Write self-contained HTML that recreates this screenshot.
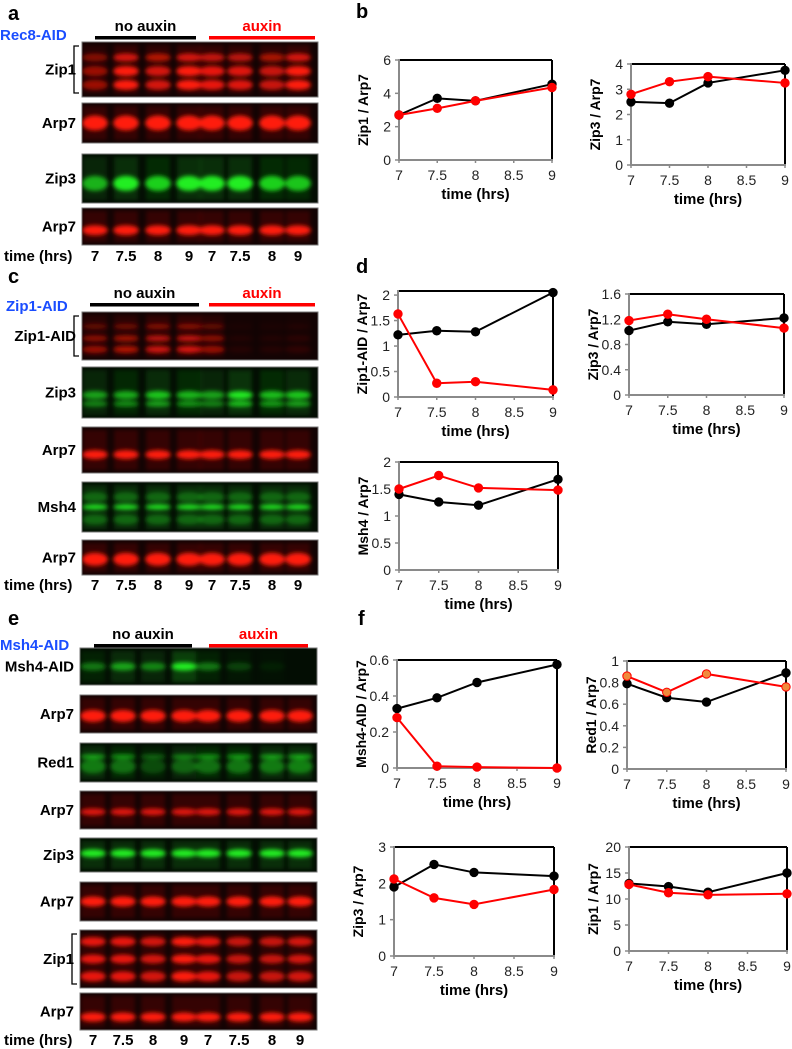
<!DOCTYPE html>
<html><head><meta charset="utf-8"><style>
html,body{margin:0;padding:0;background:#fff;}
svg{display:block;font-family:"Liberation Sans",sans-serif;}
</style></head><body>
<svg id="fig" width="792" height="1049" viewBox="0 0 792 1049" xmlns="http://www.w3.org/2000/svg">
<defs>
<filter id="bl" x="-50%" y="-100%" width="200%" height="300%"><feGaussianBlur stdDeviation="2"/></filter>
</defs>
<g id="blots"></g>
<g id="charts"></g>
<g id="labels" font-weight="bold">
<text x="8" y="20" font-size="20">a</text>
<text x="0" y="40" font-size="15" fill="#1a4dff">Rec8-AID</text>
<text x="8" y="283" font-size="20">c</text>
<text x="6" y="311" font-size="15" fill="#1a4dff">Zip1-AID</text>
<text x="8" y="625" font-size="20">e</text>
<text x="0" y="650" font-size="15" fill="#1a4dff">Msh4-AID</text>
<text x="356" y="18" font-size="20">b</text>
<text x="356" y="273" font-size="20">d</text>
<text x="358" y="625" font-size="20">f</text>
</g>
</svg>
<script>
const NS='http://www.w3.org/2000/svg';
function mk(parent,tag,attrs,txt){const e=document.createElementNS(NS,tag);for(const k in attrs)e.setAttribute(k,attrs[k]);if(txt!==undefined)e.textContent=txt;parent.appendChild(e);return e;}
const blotsG=document.getElementById('blots');
const lanesAC=[95,126,158,189,212,240,272,298];
const lanesE=[93,123,153,184,208,239,272,300];
const laneLabels=['7','7.5','8','9','7','7.5','8','9'];

function header(y,x1,x2,x3,x4){
  const t1=mk(blotsG,'text',{x:(x1+x2)/2,y:y,'text-anchor':'middle','font-size':15,'font-weight':'bold'},'no auxin');
  
  const b1=mk(blotsG,'rect',{x:x1,y:y+5,width:x2-x1,height:3.5,fill:'#000'});
  
  const t2=mk(blotsG,'text',{x:(x3+x4)/2,y:y,'text-anchor':'middle','font-size':15,'font-weight':'bold',fill:'#f00'},'auxin');
  
  const b2=mk(blotsG,'rect',{x:x3,y:y+5,width:x4-x3,height:3.5,fill:'#f00'});
  
}
function blot(name,label,color,x,y,w,h,lanes,bands,ints,bracket){
  const g=mk(blotsG,'g',{});
  
  
  mk(g,'rect',{x:x,y:y,width:w,height:h,fill:color==='r'?'#120303':'#030d03',stroke:'#777','stroke-width':1});
  const col=color==='r'?'#ff1a0a':'#22ee22';
  const cl=mk(g,'clipPath',{id:'c'+name});mk(cl,'rect',{x:x,y:y,width:w,height:h});
  const gg=mk(g,'g',{'clip-path':'url(#c'+name+')',filter:'url(#bl)'});
  lanes.forEach((lx,i)=>{
    mk(gg,'rect',{x:lx-12,y:y+3,width:24,height:h-6,fill:col,opacity:0.15*ints[i]});
    bands.forEach(b=>{
      mk(gg,'ellipse',{cx:lx,cy:y+h*b[0],rx:13,ry:b[1]/2,fill:col,opacity:Math.min(1,ints[i]*b[2])});
    });
  });
  const t=mk(blotsG,'text',{x:x-6,y:y+h/2+5,'text-anchor':'end','font-size':15,'font-weight':'bold'},label);
  
  if(bracket){mk(blotsG,'path',{d:`M${x-3} ${y+4} h-5 v${h-8} h5`,fill:'none',stroke:'#000','stroke-width':1.3});}
}
function timeRow(y,lanes,name){
  const t=mk(blotsG,'text',{x:4,y:y,'font-size':15,'font-weight':'bold'},'time (hrs)');
  
  lanes.forEach((lx,i)=>{const e=mk(blotsG,'text',{x:lx,y:y,'text-anchor':'middle','font-size':15,'font-weight':'bold'},laneLabels[i]);
    });
}
const one=[1,1,1,1,1,1,1,1];
header(31,95,196,209,315);
blot('a-zip1-blot','Zip1','r',82,42,236,55,lanesAC,[[0.28,8,0.8],[0.53,10,1],[0.78,10,1]],[0.55,1,0.8,1,0.9,0.85,0.75,1],true);
blot('a-arp7-blot-1','Arp7','r',82,103,236,40,lanesAC,[[0.5,15,1]],one);
blot('a-zip3-blot','Zip3','g',82,154,236,49,lanesAC,[[0.6,15,1]],[0.7,1,0.85,1,1,1,0.85,0.8]);
blot('a-arp7-blot-2','Arp7','r',82,208,236,37,lanesAC,[[0.6,10,1]],one);
timeRow(261,lanesAC,'a-time-row');
header(298,90,199,209,315);
blot('c-zip1aid-blot','Zip1-AID','r',82,312,236,48,lanesAC,[[0.3,5,0.5],[0.55,6,0.8],[0.78,7,0.9]],[0.6,0.7,0.85,0.9,0.6,0.08,0.08,0.12],true);
blot('c-zip3-blot','Zip3','g',82,367,236,51,lanesAC,[[0.55,8,0.9],[0.72,6,0.7]],[0.7,0.75,0.9,0.8,0.7,1.1,0.85,0.9]);
blot('c-arp7-blot-1','Arp7','r',82,427,236,46,lanesAC,[[0.6,9,1]],one);
blot('c-msh4-blot','Msh4','g',82,482,236,50,lanesAC,[[0.5,5,1],[0.3,10,0.3],[0.75,10,0.3]],one);
blot('c-arp7-blot-2','Arp7','r',82,540,236,35,lanesAC,[[0.55,13,1]],one);
timeRow(590,lanesAC,'c-time-row');
header(639,94,192,209,308);
blot('e-msh4aid-blot','Msh4-AID','g',80,648,237,37,lanesE,[[0.5,8,0.7]],[0.6,0.9,0.7,1.5,0.6,0.3,0.1,0]);
blot('e-arp7-blot-1','Arp7','r',80,695,237,38,lanesE,[[0.55,12,1]],one);
blot('e-red1-blot','Red1','g',80,743,237,39,lanesE,[[0.35,5,0.7],[0.6,14,0.45]],[0.9,0.8,0.5,0.7,0.8,0.85,0.9,0.95]);
blot('e-arp7-blot-2','Arp7','r',80,791,237,38,lanesE,[[0.55,7,0.85]],one);
blot('e-zip3-blot','Zip3','g',80,838,237,34,lanesE,[[0.45,8,1]],one);
blot('e-arp7-blot-3','Arp7','r',80,882,237,39,lanesE,[[0.5,10,1]],one);
blot('e-zip1-blot','Zip1','r',80,930,237,58,lanesE,[[0.2,9,1],[0.5,9,1],[0.8,10,1]],[0.9,0.9,0.8,1,0.9,0.75,0.75,0.8],true);
blot('e-arp7-blot-4','Arp7','r',80,993,237,37,lanesE,[[0.65,9,1]],one);
timeRow(1045,lanesE,'e-time-row');

const timesX=[7,7.5,8,9];
const xTicks=[7,7.5,8,8.5,9];
const b1Black=[2.7,3.7,3.55,4.55], b1Red=[2.7,3.1,3.55,4.35], b1Ticks=[0,2,4,6];
const b2Black=[2.5,2.45,3.25,3.75], b2Red=[2.8,3.3,3.5,3.25], b2Ticks=[0,1,2,3,4];
const d1Black=[1.22,1.3,1.28,2.05], d1Red=[1.63,0.27,0.3,0.14], d1Ticks=[0,0.5,1,1.5,2];
const d2Black=[1.02,1.16,1.12,1.22], d2Red=[1.18,1.28,1.2,1.06], d2Ticks=[0,0.4,0.8,1.2,1.6];
const d3Black=[1.4,1.26,1.2,1.68], d3Red=[1.5,1.75,1.52,1.48], d3Ticks=[0,0.5,1,1.5,2];
const f1Black=[0.33,0.39,0.475,0.575], f1Red=[0.28,0.01,0.005,0], f1Ticks=[0,0.2,0.4,0.6];
const f2Black=[0.79,0.66,0.62,0.89], f2Red=[0.86,0.71,0.88,0.76], f2Ticks=[0,0.2,0.4,0.6,0.8,1];
const f3Black=[1.9,2.52,2.3,2.2], f3Red=[2.12,1.6,1.42,1.83], f3Ticks=[0,1,2,3];
const f4Black=[13,12.4,11.3,15], f4Red=[12.8,11.2,10.8,11], f4Ticks=[0,5,10,15,20];

const chartsG=document.getElementById('charts');
function chart(name,ytitle,L,R,T,B,ymax,ticks,black,red,redFill,showX){
  const g=mk(chartsG,'g',{});
  
  
  const sx=v=>L+(v-7)/2*(R-L);
  const sy=v=>B-v/ymax*(B-T);
  mk(g,'line',{x1:L,y1:T,x2:R,y2:T,stroke:'#000','stroke-width':2});
  mk(g,'line',{x1:R,y1:T,x2:R,y2:B,stroke:'#000','stroke-width':2});
  mk(g,'line',{x1:L,y1:T-1,x2:L,y2:B+1,stroke:'#8a8a8a','stroke-width':2});
  mk(g,'line',{x1:L-1,y1:B,x2:R+1,y2:B,stroke:'#8a8a8a','stroke-width':2});
  ticks.forEach(t=>{
    mk(g,'line',{x1:L-4,y1:sy(t),x2:L,y2:sy(t),stroke:'#8a8a8a','stroke-width':1.5});
    const e=mk(g,'text',{x:L-8,y:sy(t)+5,'text-anchor':'end','font-size':14,fill:'#222'},String(t));
    
  });
  xTicks.forEach(t=>{
    mk(g,'line',{x1:sx(t),y1:B,x2:sx(t),y2:B+3,stroke:'#8a8a8a','stroke-width':1.5});
    const e=mk(g,'text',{x:sx(t),y:B+20,'text-anchor':'middle','font-size':14,fill:'#222'},String(t));
    
  });
  if(showX){
    const e=mk(g,'text',{x:(L+R)/2,y:B+39,'text-anchor':'middle','font-size':15,'font-weight':'bold'},'time (hrs)');
    
  }
  const cx=L-31, cy=(T+B)/2;
  const yt=mk(g,'text',{x:cx,y:cy,'text-anchor':'middle','font-size':14,'font-weight':'bold',transform:`rotate(-90 ${cx} ${cy})`},ytitle);
  
  [[black,'#000','#000','no-auxin-series'],[red,'#f00',redFill,'auxin-series']].forEach(s=>{
    const pts=s[0].map((v,i)=>sx(timesX[i])+','+sy(v)).join(' ');
    const pl=mk(g,'polyline',{points:pts,fill:'none',stroke:s[1],'stroke-width':2});
    
    s[0].forEach((v,i)=>{
      const c=mk(g,'circle',{cx:sx(timesX[i]),cy:sy(v),r:4.2,fill:s[2],stroke:s[1],'stroke-width':1});
      
    });
  });
}
chart('chart-b-zip1','Zip1 / Arp7',399,552,60,160,6,b1Ticks,b1Black,b1Red,'#f00',true);
chart('chart-b-zip3','Zip3 / Arp7',631,785,64,165,4,b2Ticks,b2Black,b2Red,'#f00',true);
chart('chart-d-zip1aid','Zip1-AID / Arp7',398,553,291,397,2.08,d1Ticks,d1Black,d1Red,'#f00',true);
chart('chart-d-zip3','Zip3 / Arp7',629,784,294,395,1.6,d2Ticks,d2Black,d2Red,'#f00',true);
chart('chart-d-msh4','Msh4 / Arp7',399,558,462,570,2,d3Ticks,d3Black,d3Red,'#f00',true);
chart('chart-f-msh4aid','Msh4-AID / Arp7',397,557,660,768,0.6,f1Ticks,f1Black,f1Red,'#f00',true);
chart('chart-f-red1','Red1 / Arp7',627,786,661,769,1,f2Ticks,f2Black,f2Red,'#f08a3c',true);
chart('chart-f-zip3','Zip3 / Arp7',394,554,847,956,3,f3Ticks,f3Black,f3Red,'#f00',true);
chart('chart-f-zip1','Zip1 / Arp7',629,787,847,951,20,f4Ticks,f4Black,f4Red,'#f00',true);
</script>
</body></html>
